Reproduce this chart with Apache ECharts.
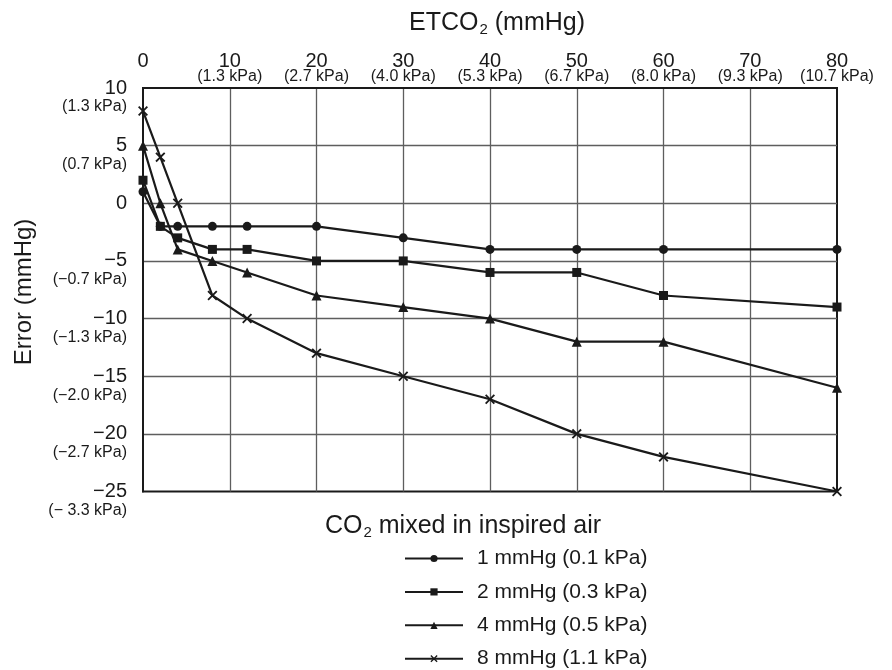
<!DOCTYPE html>
<html>
<head>
<meta charset="utf-8">
<script src="https://cdn.jsdelivr.net/npm/echarts@6/dist/echarts.min.js"></script>
<style>
  html, body { margin: 0; padding: 0; background: #fff; }
  #chart { width: 892px; height: 670px; }
</style>
</head>
<body>
<div id="chart"></div>
<script>
// ETCO2 axis (mmHg) with kPa equivalents
const xMin = 0, xMax = 80, xStep = 10;
const xTickLabels = ['0', '10', '20', '30', '40', '50', '60', '70', '80'];
const xKpaLabels = ['', '(1.3 kPa)', '(2.7 kPa)', '(4.0 kPa)', '(5.3 kPa)', '(6.7 kPa)', '(8.0 kPa)', '(9.3 kPa)', '(10.7 kPa)'];

// Error axis (mmHg) with kPa equivalents
const yMin = -25, yMax = 10, yStep = 5;
const yTickLabels = ['\u221225', '\u221220', '\u221215', '\u221210', '\u22125', '0', '5', '10'];
const yKpaLabels = ['(\u2212 3.3 kPa)', '(\u22122.7 kPa)', '(\u22122.0 kPa)', '(\u22121.3 kPa)', '(\u22120.7 kPa)', '', '(0.7 kPa)', '(1.3 kPa)'];

// ETCO2 sample points shared by all series
const etco2 = [0, 2, 4, 8, 12, 20, 30, 40, 50, 60, 80];

// Measured error for each inspired CO2 level
const seriesNames = ['1 mmHg (0.1 kPa)', '2 mmHg (0.3 kPa)', '4 mmHg (0.5 kPa)', '8 mmHg (1.1 kPa)'];
const error1 = [1, -2, -2, -2, -2, -2, -3, -4, -4, -4, -4];
const error2 = [2, -2, -3, -4, -4, -5, -5, -6, -6, -8, -9];
const error4 = [5, 0, -4, -5, -6, -8, -9, -10, -12, -12, -16];
const error8 = [8, 4, 0, -8, -10, -13, -15, -17, -20, -22, -25];

const FONT = '"Liberation Sans", Arial, Helvetica, sans-serif';
const INK = '#1a1a1a';
const GRIDLINE = '#5e5e5e';

const crossPath = 'path://M0,1.3 L1.3,0 L5,3.7 L8.7,0 L10,1.3 L6.3,5 L10,8.7 L8.7,10 L5,6.3 L1.3,10 L0,8.7 L3.7,5 Z';
const markers = [
  { symbol: 'circle', size: 9 },
  { symbol: 'rect', size: 9 },
  { symbol: 'triangle', size: 10 },
  { symbol: crossPath, size: 10 }
];
const errors = [error1, error2, error4, error8];

const idx = (v, min, step) => Math.round((v - min) / step);

const chart = echarts.init(document.getElementById('chart'), null, { renderer: 'canvas' });

const subRich = {
  s: { fontSize: 15, fontFamily: FONT, color: INK, padding: [13, 0, 0, 1] }
};

// one legend block per series, stacked under the key title
const legendTop = 548, legendRow = 33.4;
const legends = seriesNames.map((name, i) => ({
  orient: 'vertical',
  left: 404, top: legendTop + i * legendRow, padding: 0,
  itemWidth: 58, itemHeight: 9,
  icon: 'inherit',
  textStyle: { fontSize: 21, lineHeight: 20, color: INK, fontFamily: FONT, padding: [0, 0, 0, 9] },
  data: [name]
}));

chart.setOption({
  backgroundColor: '#fff',
  animation: false,
  textStyle: { fontFamily: FONT, color: INK },
  title: [
    {
      text: 'ETCO{s|2} (mmHg)',
      left: 409, top: 9, padding: 0,
      textStyle: { fontSize: 25, fontWeight: 'normal', fontFamily: FONT, color: INK, rich: subRich }
    },
    {
      text: 'CO{s|2} mixed in inspired air',
      left: 325, top: 512, padding: 0,
      textStyle: { fontSize: 25, fontWeight: 'normal', fontFamily: FONT, color: INK, rich: subRich }
    }
  ],
  graphic: [
    {
      type: 'text',
      x: 24, y: 292,
      rotation: Math.PI / 2,
      style: {
        text: 'Error (mmHg)',
        fontSize: 24, fontFamily: FONT, fill: INK,
        align: 'center', verticalAlign: 'middle'
      }
    }
  ],
  grid: {
    left: 143, right: 55, top: 88, bottom: 178.5,
    show: true, borderColor: INK, borderWidth: 2, backgroundColor: 'transparent'
  },
  xAxis: [
    {
      type: 'value', position: 'top', min: xMin, max: xMax, interval: xStep,
      axisLine: { show: true, onZero: false, lineStyle: { color: INK, width: 2 } },
      axisTick: { show: false },
      splitLine: { show: true, showMinLine: false, showMaxLine: false, lineStyle: { color: GRIDLINE, width: 1.3 } },
      axisLabel: {
        margin: 17, fontSize: 20, color: INK, fontFamily: FONT,
        showMinLabel: true, showMaxLabel: true, hideOverlap: false,
        formatter: v => xTickLabels[idx(v, xMin, xStep)]
      }
    },
    {
      type: 'value', position: 'top', min: xMin, max: xMax, interval: xStep,
      axisLine: { show: false, onZero: false }, axisTick: { show: false }, splitLine: { show: false },
      axisLabel: {
        margin: 3, fontSize: 16, color: INK, fontFamily: FONT,
        showMinLabel: true, showMaxLabel: true, hideOverlap: false,
        formatter: v => xKpaLabels[idx(v, xMin, xStep)]
      }
    }
  ],
  yAxis: [
    {
      type: 'value', position: 'left', min: yMin, max: yMax, interval: yStep,
      axisLine: { show: true, onZero: false, lineStyle: { color: INK, width: 2 } },
      axisTick: { show: false },
      splitLine: { show: true, showMinLine: false, showMaxLine: false, lineStyle: { color: GRIDLINE, width: 1.3 } },
      axisLabel: {
        margin: 16, fontSize: 20, color: INK, fontFamily: FONT,
        showMinLabel: true, showMaxLabel: true, hideOverlap: false,
        formatter: v => yTickLabels[idx(v, yMin, yStep)]
      }
    },
    {
      type: 'value', position: 'left', min: yMin, max: yMax, interval: yStep,
      axisLine: { show: false, onZero: false }, axisTick: { show: false }, splitLine: { show: false },
      axisLabel: {
        margin: 16, fontSize: 16, color: INK, fontFamily: FONT,
        verticalAlign: 'top', padding: [11, 0, 0, 0],
        showMinLabel: true, showMaxLabel: true, hideOverlap: false,
        formatter: v => yKpaLabels[idx(v, yMin, yStep)]
      }
    }
  ],
  legend: legends,
  series: errors.map((vals, i) => ({
    name: seriesNames[i],
    type: 'line',
    xAxisIndex: 0, yAxisIndex: 0,
    data: etco2.map((x, j) => [x, vals[j]]),
    symbol: markers[i].symbol,
    symbolSize: markers[i].size,
    showAllSymbol: true,
    clip: false,
    z: 3 + i,
    lineStyle: { color: INK, width: 2.2 },
    itemStyle: { color: INK, borderWidth: 0 },
    emphasis: { disabled: true }
  }))
});
</script>
</body>
</html>
